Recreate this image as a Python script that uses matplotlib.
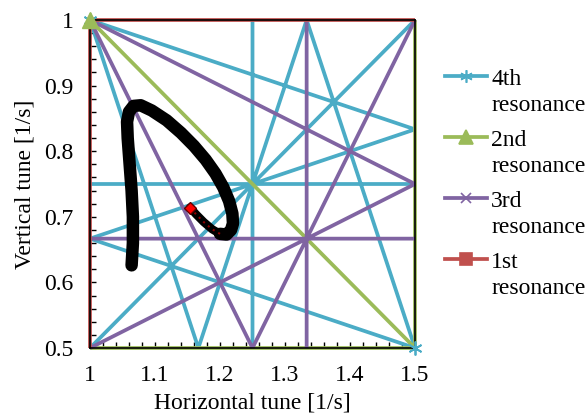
import numpy as np
import matplotlib
matplotlib.use('Agg')
import matplotlib.pyplot as plt
from matplotlib.lines import Line2D
from matplotlib.ticker import MultipleLocator

plt.rcParams['font.family'] = ['Liberation Serif', 'DejaVu Serif']
plt.rcParams['font.size'] = 17

# resonance lines, each segment (qx1, qy1, qx2, qy2)
res4 = [(1.25, 0.5, 1.25, 1.0), (1.0, 0.75, 1.5, 0.75), (1.0, 0.5, 1.5, 1.0),
        (1.0, 1.0, 1.1667, 0.5), (1.3333, 1.0, 1.5, 0.5), (1.1667, 0.5, 1.3333, 1.0),
        (1.0, 0.6667, 1.5, 0.5), (1.0, 1.0, 1.5, 0.8333), (1.0, 0.6667, 1.5, 0.8333)]
res2 = [(1.0, 1.0, 1.5, 0.5), (1.5, 0.5, 1.5, 1.0), (1.0, 0.5, 1.5, 0.5)]
res3 = [(1.3333, 0.5, 1.3333, 1.0), (1.0, 0.6667, 1.5, 0.6667), (1.0, 1.0, 1.25, 0.5),
        (1.25, 0.5, 1.5, 1.0), (1.0, 1.0, 1.5, 0.75), (1.0, 0.5, 1.5, 0.75)]
res1 = [(1.0, 0.5, 1.0, 1.0), (1.0, 1.0, 1.5, 1.0)]

# tune footprint
qx = [1.064, 1.066, 1.066, 1.064, 1.061, 1.058, 1.057, 1.060, 1.067, 1.078, 1.095,
      1.118, 1.140, 1.160, 1.178, 1.193, 1.205, 1.214, 1.219, 1.220, 1.217, 1.210,
      1.200, 1.188, 1.175, 1.163, 1.154]
qy = [0.626, 0.66, 0.70, 0.74, 0.78, 0.82, 0.845, 0.860, 0.869, 0.870, 0.862,
      0.847, 0.828, 0.808, 0.787, 0.766, 0.745, 0.724, 0.705, 0.690, 0.680, 0.673,
      0.674, 0.681, 0.692, 0.704, 0.714]
n_thick = 22  # after this point the trace gets thinner

labels = ['4th\nresonance', '2nd\nresonance', '3rd\nresonance', '1st\nresonance']
colors = ['#4BACC6', '#9BBB59', '#8064A2', '#C0504D']
markers = [(6, 2, 0), '^', 'x', 's']
msizes = [9, 10, 7, 8]


def segs(lst):
    xs, ys = [], []
    for x1, y1, x2, y2 in lst:
        xs += [x1, x2, np.nan]
        ys += [y1, y2, np.nan]
    return xs, ys


fig = plt.figure(figsize=(5.88, 4.19), dpi=100)
ax = fig.add_axes([90/588, 1-348/419, 325/588, 328/419])

for lst, c in zip([res4, res2, res3, res1], colors):
    xs, ys = segs(lst)
    ax.plot(xs, ys, color=c, lw=2.7, clip_on=False, solid_capstyle='butt')

# markers visible at the corners
ax.plot([1.0, 1.5], [1.0, 0.5], ls='none', marker=(6, 2, 0), ms=10, mew=1.3,
        color=colors[0], clip_on=False, zorder=5)
ax.plot([1.0], [1.0], ls='none', marker='^', ms=12, color=colors[1], clip_on=False, zorder=6)

# footprint
ax.plot(qx[:n_thick+1], qy[:n_thick+1], color='black', lw=9,
        solid_capstyle='round', solid_joinstyle='round', zorder=7)
ax.plot(qx[n_thick:], qy[n_thick:], color='black', lw=6,
        solid_capstyle='round', zorder=7)
ax.plot(qx[n_thick:], qy[n_thick:], color='#8B0000', lw=1.5, ls=(0, (1, 2)), zorder=8)
ax.plot(qx[-1], qy[-1], marker='D', ms=6, color='red', mec='#600000', mew=1, zorder=9)

ax.set_xlim(1.0, 1.5)
ax.set_ylim(0.5, 1.0)
ax.xaxis.set_major_locator(MultipleLocator(0.1))
ax.xaxis.set_minor_locator(MultipleLocator(0.02))
ax.yaxis.set_major_locator(MultipleLocator(0.1))
ax.yaxis.set_minor_locator(MultipleLocator(0.02))
ax.xaxis.set_major_formatter(plt.FuncFormatter(lambda v, p: '%g' % round(v, 2)))
ax.yaxis.set_major_formatter(plt.FuncFormatter(lambda v, p: '%g' % round(v, 2)))
ax.tick_params(which='both', direction='in', length=4, width=1, pad=12)
for s in ax.spines.values():
    s.set_linewidth(1.2)

ax.set_xlabel('Horizontal tune [1/s]', labelpad=5)
ax.set_ylabel('Vertical tune [1/s]', labelpad=6)

# legend (handle lined up with the first text line)
for i, (lab, c, m, ms) in enumerate(zip(labels, colors, markers, msizes)):
    ypx = 76 + 61 * i
    yf = 1 - ypx / 419
    fig.add_artist(Line2D([445/588, 466/588, 487/588], [yf, yf, yf], color=c, lw=2.7,
                          marker=m, ms=ms, mew=1.2, markevery=[1], transform=fig.transFigure))
    fig.text(491/588, 1 - (ypx - 7) / 419, lab, ha='left', va='top',
             linespacing=1.3, fontsize=17)

fig.savefig('out.png', dpi=100)
